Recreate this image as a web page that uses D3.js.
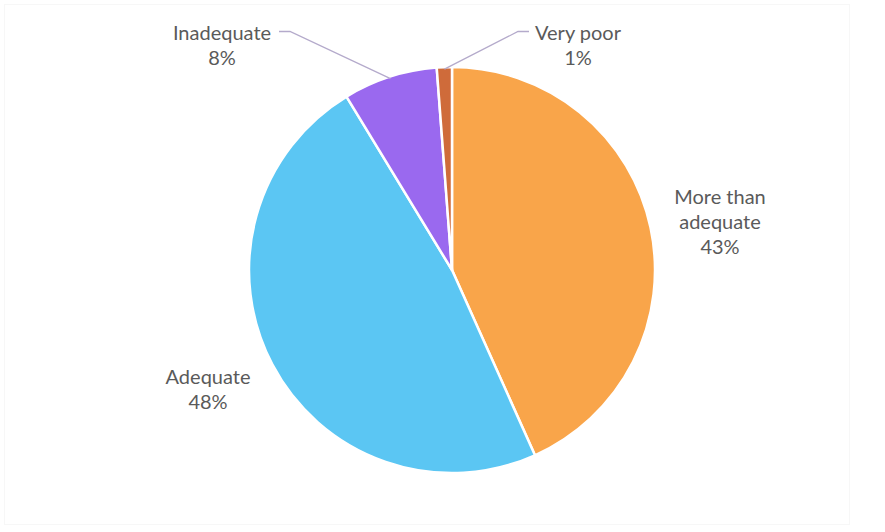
<!DOCTYPE html>
<html>
<head>
<meta charset="utf-8">
<script src="https://cdn.jsdelivr.net/npm/d3@7"></script>
<style>
  html, body { margin: 0; padding: 0; background: #fff; }
  svg { display: block; }
</style>
</head>
<body>
<svg id="chart" width="885" height="532"></svg>
<script>
const categories = ["More than adequate", "Adequate", "Inadequate", "Very poor"];
const values = [43.3, 48.0, 7.5, 1.2];
const percentLabels = ["43%", "48%", "8%", "1%"];
const labelLines = [["More than", "adequate"], ["Adequate"], ["Inadequate"], ["Very poor"]];
const colors = ["#F9A54A", "#5BC6F3", "#9A69EF", "#CF6B3A"];

const svg = d3.select("#chart");
const W = 885, H = 532;
const cx = 452, cy = 270, R = 203;

// faint frame
svg.append("rect").attr("x", 4.5).attr("y", 4.5).attr("width", W - 40).attr("height", H - 12)
  .attr("fill", "none").attr("stroke", "#f7f7f7").attr("stroke-width", 1);

const data = categories.map((c, i) => ({ name: c, value: values[i], pct: percentLabels[i], lines: labelLines[i], color: colors[i] }));

const pie = d3.pie().sort(null).value(d => d.value).startAngle(0).endAngle(2 * Math.PI);
const arcs = pie(data);
const arc = d3.arc().innerRadius(0).outerRadius(R);

const g = svg.append("g").attr("transform", `translate(${cx},${cy})`);
g.selectAll("path.slice").data(arcs).join("path")
  .attr("class", "slice")
  .attr("d", arc)
  .attr("fill", d => d.data.color)
  .attr("stroke", "#fff")
  .attr("stroke-width", 2.5)
  .attr("stroke-linejoin", "round");

// label layout: center of label block relative to pie center (layout only)
const labelPos = [
  { dx: 268, dy: -48, leader: false },
  { dx: -230, dy: -225, leader: false },
  { dx: -230, dy: -225, leader: true, anchorX: 57, elbowX: 68 },
  { dx: 126, dy: -225, leader: true, anchorX: -49, elbowX: -60 }
];
labelPos[1] = { dx: -244, dy: 119, leader: false };
const lineH = 25;

arcs.forEach((a, i) => {
  const p = labelPos[i];
  const lines = a.data.lines.concat([a.data.pct]);
  const top = p.dy - (lines.length - 1) * lineH / 2;
  const t = g.append("text")
    .attr("text-anchor", "middle")
    .attr("font-family", "Lato, 'Open Sans', sans-serif")
    .attr("font-size", 20)
    .attr("fill", "#5a5a5a");
  lines.forEach((ln, k) => {
    t.append("tspan").attr("x", p.dx).attr("y", top + k * lineH + 7).text(ln);
  });
  if (p.leader) {
    const mid = (a.startAngle + a.endAngle) / 2;
    const px = Math.sin(mid) * (R - 2), py = -Math.cos(mid) * (R - 2);
    const ly = top - 1;
    g.append("polyline")
      .attr("points", [[p.dx + p.anchorX, ly], [p.dx + p.elbowX, ly], [px, py]].map(q => q.join(",")).join(" "))
      .attr("fill", "none")
      .attr("stroke", "#b4aacb")
      .attr("stroke-width", 1.3);
  }
});
</script>
</body>
</html>
